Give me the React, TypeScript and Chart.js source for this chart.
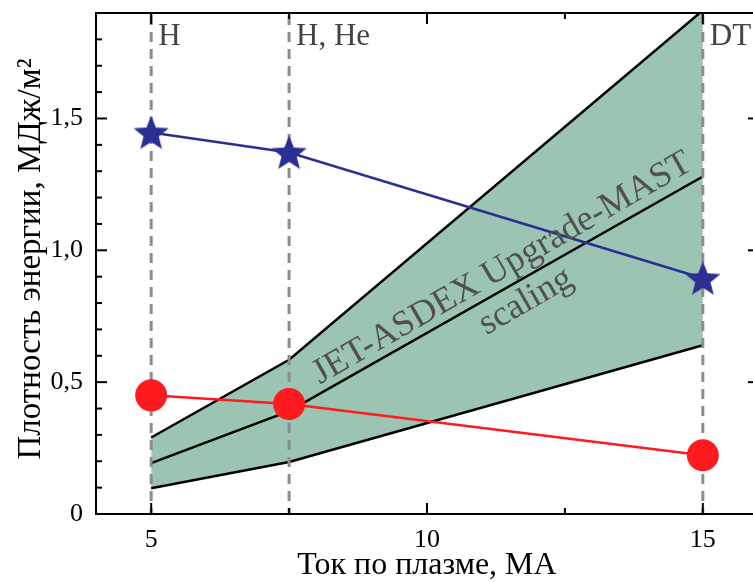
import React, { useEffect, useRef } from "react";
import { Chart, registerables } from "chart.js";
Chart.register(...registerables);

// ---- data ----
const currents = [5, 7.5, 15];
const starValues = [1.447, 1.371, 0.894];
const circleValues = [0.45, 0.417, 0.223];
const bandUpper = [0.29, 0.585, 1.91];
const bandMiddle = [0.193, 0.39, 1.28];
const bandLower = [0.098, 0.197, 0.64];
const shotLabels = ["H", "H, He", "DT"];
const xTicks = [5, 10, 15];
const xMinorTicks = [7.5, 12.5];
const yTicks = [0, 0.5, 1.0, 1.5];
const yTickLabels = ["0", "0,5", "1,0", "1,5"];
const yMinorTicks = [0.1, 0.2, 0.3, 0.4, 0.6, 0.7, 0.8, 0.9, 1.1, 1.2, 1.3, 1.4, 1.6, 1.7, 1.8];
const xTitle = "Ток по плазме, МА";
const yTitle = "Плотность энергии, МДж/м²";
const bandTitle = "JET-ASDEX Upgrade-MAST";
const bandSubtitle = "scaling";

const SERIF = "'Liberation Serif', 'Times New Roman', serif";
const CW = 770;
const CH = 582;

function makeStar(): HTMLCanvasElement {
  const c = document.createElement("canvas");
  const s = 40;
  c.width = s;
  c.height = s;
  const g = c.getContext("2d")!;
  const cx = s / 2, cy = s / 2 + 1.5;
  const R = 18.5, r = 8;
  g.beginPath();
  for (let i = 0; i < 10; i++) {
    const ang = -Math.PI / 2 + (i * Math.PI) / 5;
    const rad = i % 2 === 0 ? R : r;
    const px = cx + rad * Math.cos(ang);
    const py = cy + rad * Math.sin(ang);
    if (i === 0) g.moveTo(px, py);
    else g.lineTo(px, py);
  }
  g.closePath();
  g.fillStyle = "#2b2e92";
  g.fill();
  return c;
}

const zeroPad = (s: any) => {
  s.paddingLeft = 0;
  s.paddingRight = 0;
  s.paddingTop = 0;
  s.paddingBottom = 0;
};

export default function App() {
  const ref = useRef<HTMLCanvasElement>(null);
  useEffect(() => {
    const canvas = ref.current!;
    const star = makeStar();
    const pts = (vals: number[]) => currents.map((x, i) => ({ x, y: vals[i] }));

    const decor = {
      id: "decor",
      beforeDatasetDraw(chart: any, args: any) {
        if (args.index !== 1) return;
        const { ctx, chartArea: a, scales } = chart;
        ctx.save();
        ctx.strokeStyle = "#8c8c8c";
        ctx.lineWidth = 3;
        ctx.setLineDash([10, 7]);
        currents.forEach((v) => {
          const px = scales.x.getPixelForValue(v);
          ctx.beginPath();
          ctx.moveTo(px, a.top + 2);
          ctx.lineTo(px, a.bottom);
          ctx.stroke();
        });
        ctx.restore();
      },
      afterDatasetsDraw(chart: any) {
        const { ctx, chartArea: a, scales } = chart;
        const xs = scales.x, ys = scales.y;
        ctx.save();
        ctx.fillStyle = "#505050";
        ctx.font = `36px ${SERIF}`;
        ctx.textAlign = "center";
        ctx.textBaseline = "alphabetic";
        ctx.save();
        ctx.translate(xs.getPixelForValue(11.45), ys.getPixelForValue(0.9));
        ctx.rotate((-30 * Math.PI) / 180);
        ctx.fillText(bandTitle, 0, 0);
        ctx.restore();
        ctx.save();
        ctx.translate(xs.getPixelForValue(11.88), ys.getPixelForValue(0.775));
        ctx.rotate((-30 * Math.PI) / 180);
        ctx.fillText(bandSubtitle, 0, 0);
        ctx.restore();
        ctx.fillStyle = "#444444";
        ctx.font = `31px ${SERIF}`;
        ctx.textAlign = "left";
        currents.forEach((v, i) => {
          ctx.fillText(shotLabels[i], xs.getPixelForValue(v) + 7, a.top + 32);
        });
        ctx.restore();
      },
      afterDraw(chart: any) {
        const { ctx, chartArea: a, scales } = chart;
        const xs = scales.x, ys = scales.y;
        ctx.save();
        ctx.strokeStyle = "#000";
        ctx.lineWidth = 2;
        ctx.strokeRect(a.left, a.top, a.right - a.left, a.bottom - a.top);
        const tick = (x1: number, y1: number, x2: number, y2: number) => {
          ctx.beginPath();
          ctx.moveTo(x1, y1);
          ctx.lineTo(x2, y2);
          ctx.stroke();
        };
        xTicks.forEach((v) => {
          const p = xs.getPixelForValue(v);
          tick(p, a.bottom, p, a.bottom - 11);
          tick(p, a.top, p, a.top + 11);
        });
        xMinorTicks.forEach((v) => {
          const p = xs.getPixelForValue(v);
          tick(p, a.bottom, p, a.bottom - 6);
          tick(p, a.top, p, a.top + 6);
        });
        yTicks.forEach((v) => {
          const p = ys.getPixelForValue(v);
          tick(a.left, p, a.left + 11, p);
          tick(a.right, p, a.right - 10, p);
        });
        yMinorTicks.forEach((v) => {
          const p = ys.getPixelForValue(v);
          tick(a.left, p, a.left + 6, p);
          tick(a.right, p, a.right - 4, p);
        });
        ctx.fillStyle = "#000";
        ctx.font = `32px ${SERIF}`;
        ctx.textAlign = "center";
        ctx.textBaseline = "alphabetic";
        ctx.fillText(xTitle, (a.left + a.right) / 2, 574);
        ctx.save();
        ctx.translate(40, 259);
        ctx.rotate(-Math.PI / 2);
        ctx.font = `33px ${SERIF}`;
        ctx.fillText(yTitle, 0, 0);
        ctx.restore();
        ctx.restore();
      },
    };

    const chart = new Chart(canvas, {
      type: "line",
      data: {
        datasets: [
          {
            data: pts(starValues),
            borderColor: "#2b2e92",
            borderWidth: 2.5,
            pointStyle: star as any,
            pointRadius: 18,
            fill: false,
          },
          {
            data: pts(circleValues),
            borderColor: "#ff1a1e",
            backgroundColor: "#ff1a1e",
            borderWidth: 2.5,
            pointStyle: "circle",
            pointRadius: 16,
            pointBorderWidth: 0,
            fill: false,
          },
          {
            data: pts(bandUpper),
            borderColor: "#000",
            borderWidth: 2.5,
            pointRadius: 0,
            fill: false,
          },
          {
            data: pts(bandMiddle),
            borderColor: "#000",
            borderWidth: 2.5,
            pointRadius: 0,
            fill: false,
          },
          {
            data: pts(bandLower),
            borderColor: "#000",
            borderWidth: 2.5,
            pointRadius: 0,
            backgroundColor: "#9bc5b2",
            fill: "-2",
          },
        ],
      },
      options: {
        animation: false,
        responsive: false,
        maintainAspectRatio: false,
        devicePixelRatio: 1,
        layout: { autoPadding: false, padding: { top: 13, right: CW - 758, left: 0, bottom: 0 } },
        plugins: { legend: { display: false }, tooltip: { enabled: false }, title: { display: false } },
        scales: {
          x: {
            type: "linear",
            min: 4,
            max: 16,
            grid: { display: false, drawTicks: false },
            border: { display: false },
            afterBuildTicks: (s: any) => {
              s.ticks = xTicks.map((v) => ({ value: v }));
            },
            afterFit: (s: any) => {
              s.height = CH - 514;
              zeroPad(s);
            },
            ticks: {
              padding: 11,
              color: "#000",
              font: { family: SERIF, size: 26 },
              maxRotation: 0,
              callback: (v: any) => String(v),
            },
          },
          y: {
            type: "linear",
            min: 0,
            max: 1.9,
            grid: { display: false, drawTicks: false },
            border: { display: false },
            afterBuildTicks: (s: any) => {
              s.ticks = yTicks.map((v) => ({ value: v }));
            },
            afterFit: (s: any) => {
              s.width = 96;
              zeroPad(s);
            },
            ticks: {
              padding: 13,
              color: "#000",
              font: { family: SERIF, size: 26 },
              callback: (v: any) => {
                const i = yTicks.indexOf(Number(v));
                return i >= 0 ? yTickLabels[i] : "";
              },
            },
          },
        },
      },
      plugins: [decor],
    } as any);
    return () => chart.destroy();
  }, []);

  return (
    <div style={{ position: "fixed", left: 0, top: 0, width: 753, height: 582, overflow: "hidden", background: "#fff" }}>
      <canvas ref={ref} width={CW} height={CH} style={{ width: CW, height: CH, display: "block" }} />
    </div>
  );
}
